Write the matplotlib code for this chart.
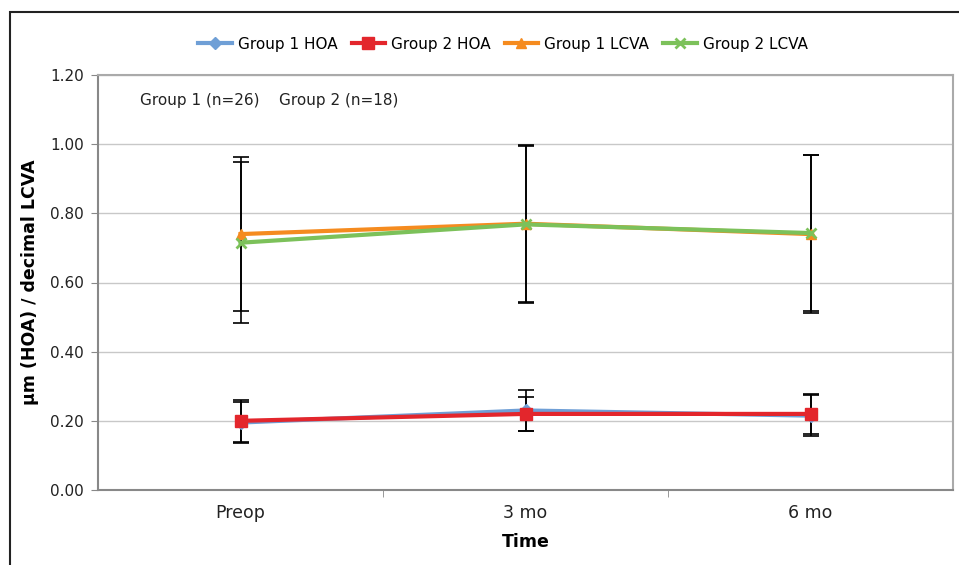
import numpy as np
import matplotlib
matplotlib.use("Agg")
import matplotlib.pyplot as plt
from matplotlib.patches import Rectangle

# data
times = ["Preop", "3 mo", "6 mo"]

g1_hoa = [0.195, 0.23, 0.215]
g1_hoa_sd = [0.06, 0.06, 0.06]
g2_hoa = [0.20, 0.22, 0.22]
g2_hoa_sd = [0.06, 0.05, 0.058]
g1_lcva = [0.74, 0.77, 0.74]
g1_lcva_sd = [0.223, 0.227, 0.228]
g2_lcva = [0.715, 0.768, 0.743]
g2_lcva_sd = [0.232, 0.228, 0.225]

series = [
    ("Group 1 HOA", g1_hoa, g1_hoa_sd, "#6f9fd6", "D", 6),
    ("Group 2 HOA", g2_hoa, g2_hoa_sd, "#e3262c", "s", 8),
    ("Group 1 LCVA", g1_lcva, g1_lcva_sd, "#f58b1f", "^", 7),
    ("Group 2 LCVA", g2_lcva, g2_lcva_sd, "#7cc15a", "x", 7),
]

plt.rcParams["font.family"] = ["DejaVu Sans"]

fig = plt.figure(figsize=(9.59, 5.65), dpi=100)
ax = fig.add_axes([98 / 959, 75 / 565, 855 / 959, 415 / 565])

x = np.arange(len(times))
handles = []
for name, vals, sd, color, marker, ms in series:
    ax.errorbar(x, vals, yerr=sd, fmt="none", ecolor="black", elinewidth=1.2,
                capsize=6, capthick=1.2, zorder=2)
    mew = 2 if marker == "x" else 1
    h, = ax.plot(x, vals, color=color, lw=3, marker=marker, ms=ms,
                 markeredgecolor=color, markeredgewidth=mew, label=name, zorder=3)
    handles.append(h)

ax.set_xlim(-0.5, 2.5)
ax.set_ylim(0, 1.2)
ax.set_yticks(np.arange(0, 1.21, 0.2))
ax.set_yticklabels([f"{v:.2f}" for v in np.arange(0, 1.21, 0.2)], fontsize=11, color="#222222")
ax.set_xticks(x)
ax.set_xticklabels(times, fontsize=12.5, color="#222222")
ax.set_xticks([0.5, 1.5], minor=True)
ax.tick_params(axis="x", which="major", length=0, pad=10)
ax.tick_params(axis="x", which="minor", length=5, color="#888888")
ax.tick_params(axis="y", length=5, color="#888888", pad=5)

ax.grid(axis="y", color="#c8c8c8", lw=1)
ax.set_axisbelow(True)
for side in ["top", "right"]:
    ax.spines[side].set_color("#aaaaaa")
    ax.spines[side].set_linewidth(1.5)
for side in ["left", "bottom"]:
    ax.spines[side].set_color("#888888")
    ax.spines[side].set_linewidth(1.5)

ax.set_ylabel("µm (HOA) / decimal LCVA", fontsize=12.5, fontweight="bold", labelpad=8)
ax.set_xlabel("Time", fontsize=12.5, fontweight="bold", labelpad=8)

ax.text(140 / 959, 1 - 101 / 565, "Group 1 (n=26)    Group 2 (n=18)",
        transform=fig.transFigure, fontsize=11, va="center", color="#222222")

fig.legend(handles=handles, loc="center", bbox_to_anchor=(503 / 959, 1 - 44 / 565),
           ncol=4, frameon=False, fontsize=11, handlelength=2.2, handletextpad=0.4,
           columnspacing=0.9)

fig.add_artist(Rectangle((10 / 959, -0.1), 1.2, 1.1 - 12 / 565,
                         transform=fig.transFigure, fill=False, edgecolor="#222222", lw=1.5))

fig.savefig("out.png", dpi=100)
